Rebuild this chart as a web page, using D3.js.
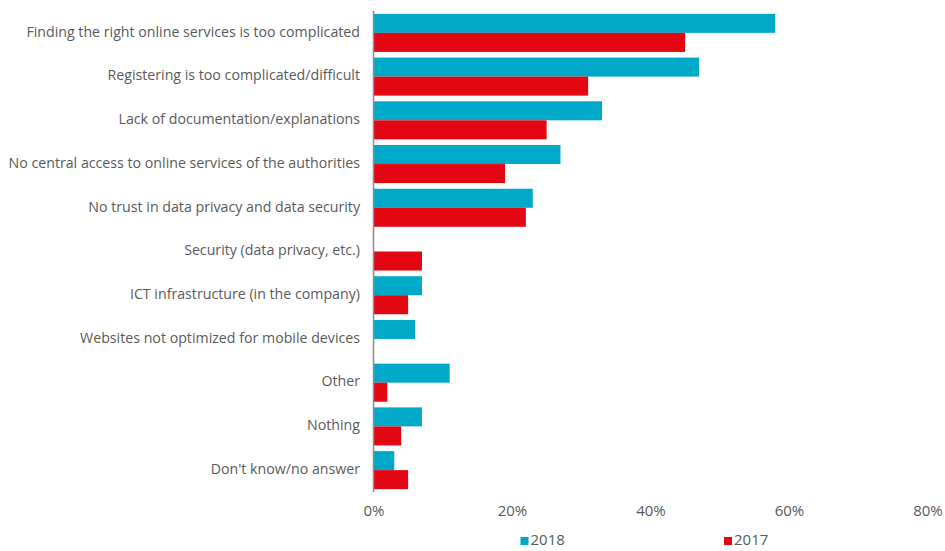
<!DOCTYPE html>
<html>
<head>
<meta charset="utf-8">
<script src="https://cdn.jsdelivr.net/npm/d3@7"></script>
<style>
  html, body { margin: 0; padding: 0; background: #fff; }
  svg { display: block; }
  text { font-family: "Open Sans", "Noto Sans", sans-serif; fill: #5a5a5a; }
</style>
</head>
<body>
<svg id="chart" width="945" height="551"></svg>
<script>
// Reasons given for not using online services, share of respondents
const categories = [
  "Finding the right online services is too complicated",
  "Registering is too complicated/difficult",
  "Lack of documentation/explanations",
  "No central access to online services of the authorities",
  "No trust in data privacy and data security",
  "Security (data privacy, etc.)",
  "ICT infrastructure (in the company)",
  "Websites not optimized for mobile devices",
  "Other",
  "Nothing",
  "Don't know/no answer"
];
const seriesNames = ["2018", "2017"];
const values2018 = [58, 47, 33, 27, 23, null, 7, 6, 11, 7, 3];
const values2017 = [45, 31, 25, 19, 22, 7, 5, null, 2, 4, 5];
const xTicks = [0, 20, 40, 60, 80];
const colors = ["#00a9c7", "#e30613"];

const svg = d3.select("#chart");
const x0 = 373.5, x1 = 927.5, yTop = 11, yBottom = 492;

const x = d3.scaleLinear().domain([0, 80]).range([x0, x1]);
const y = d3.scaleBand().domain(categories).range([yTop, yBottom]).paddingInner(0.13).paddingOuter(0.065);
const ySub = d3.scaleBand().domain(seriesNames).range([0, y.bandwidth()]);

const seriesValues = [values2018, values2017];

const groups = svg.append("g").selectAll("g")
  .data(categories)
  .join("g")
  .attr("transform", d => `translate(0,${y(d)})`);

groups.selectAll("rect")
  .data((d, i) => seriesNames.map((s, k) => ({ s, v: seriesValues[k][i], k })).filter(e => e.v != null))
  .join("rect")
  .attr("x", x(0))
  .attr("y", e => ySub(e.s))
  .attr("width", e => x(e.v) - x(0))
  .attr("height", ySub.bandwidth())
  .attr("fill", e => colors[e.k]);

// category axis line and labels
svg.append("line")
  .attr("x1", x0).attr("x2", x0)
  .attr("y1", yTop).attr("y2", yBottom)
  .attr("stroke", "#8c8c8c").attr("stroke-width", 1.5);

svg.append("g").selectAll("text")
  .data(categories)
  .join("text")
  .attr("x", 360)
  .attr("y", d => y(d) + y.bandwidth() / 2)
  .attr("text-anchor", "end")
  .attr("dominant-baseline", "middle")
  .attr("font-size", 14.2)
  .text(d => d);

// value axis labels
const xAxis = d3.axisBottom(x).tickValues(xTicks).tickFormat(d => d + "%").tickSize(0).tickPadding(0);
const gx = svg.append("g").attr("transform", `translate(0,${yBottom + 13})`).call(xAxis);
gx.select(".domain").remove();
gx.selectAll("text")
  .attr("font-size", 15)
  .attr("font-family", null)
  .style("fill", "#5a5a5a")
  .attr("dy", "0.71em");

// legend
const legendX = [520.5, 724];
const legend = svg.append("g").selectAll("g")
  .data(seriesNames)
  .join("g")
  .attr("transform", (d, i) => `translate(${legendX[i]},537)`);
legend.append("rect").attr("width", 8).attr("height", 8).attr("fill", (d, i) => colors[i]);
legend.append("text").attr("x", 10).attr("y", 4).attr("dominant-baseline", "middle")
  .attr("font-size", 15).text(d => d);
</script>
</body>
</html>
